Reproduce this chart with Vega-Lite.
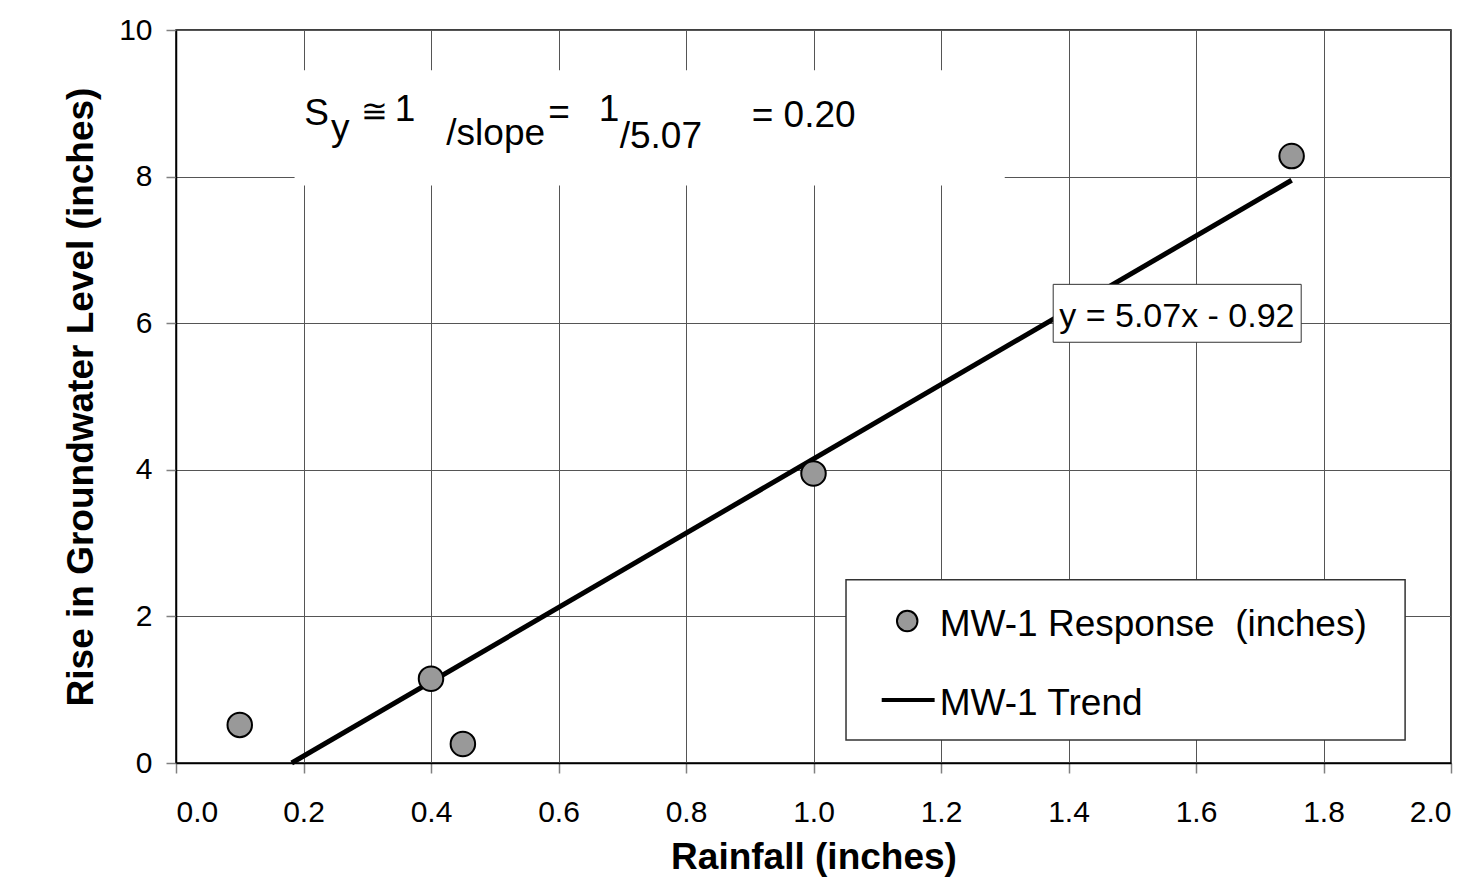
{
  "$schema": "https://vega.github.io/schema/vega-lite/v6.json",
  "autosize": {"type": "none"},
  "width": 1275,
  "height": 733,
  "padding": {"left": 176, "top": 30, "right": 27, "bottom": 119},
  "background": "white",
  "config": {
    "font": "Liberation Sans",
    "view": {"stroke": "#000000", "strokeWidth": 1.5},
    "axis": {
      "labelFont": "Liberation Sans",
      "titleFont": "Liberation Sans",
      "labelFontSize": 30,
      "labelColor": "#000000",
      "titleFontSize": 37,
      "titleFontWeight": "bold",
      "titleColor": "#000000",
      "gridColor": "#555555",
      "gridOpacity": 1,
      "gridWidth": 1,
      "domainColor": "#000000",
      "domainWidth": 1.5,
      "tickColor": "#808080",
      "tickSize": 10,
      "tickWidth": 1.5
    }
  },
  "datasets": {
    "obs": [
      {"rainfall": 0.1, "rise": 0.52},
      {"rainfall": 0.4, "rise": 1.15},
      {"rainfall": 0.45, "rise": 0.26},
      {"rainfall": 1.0, "rise": 3.95},
      {"rainfall": 1.75, "rise": 8.28}
    ],
    "trend": [
      {"rainfall": 0.1815, "rise": 0.0},
      {"rainfall": 1.75, "rise": 7.95}
    ],
    "one": [{"k": 1}]
  },
  "layer": [
    {
      "data": {"name": "trend"},
      "mark": {"type": "line", "color": "#000000", "strokeWidth": 5, "strokeCap": "butt"},
      "encoding": {
        "x": {
          "field": "rainfall", "type": "quantitative",
          "scale": {"domain": [0, 2], "nice": false, "zero": false},
          "axis": {"title": "Rainfall (inches)", "values": [0, 0.2, 0.4, 0.6, 0.8, 1.0, 1.2, 1.4, 1.6, 1.8, 2.0], "format": ".1f", "labelPadding": 24, "titlePadding": 12}
        },
        "y": {
          "field": "rise", "type": "quantitative",
          "scale": {"domain": [0, 10], "nice": false, "zero": false},
          "axis": {"title": "Rise in Groundwater Level (inches)", "values": [0, 2, 4, 6, 8, 10], "format": "d", "labelPadding": 14, "titlePadding": 18}
        }
      }
    },
    {
      "data": {"name": "obs"},
      "mark": {"type": "point", "shape": "circle", "filled": true, "fill": "#999999", "stroke": "#000000", "strokeWidth": 2, "size": 600, "opacity": 1},
      "encoding": {
        "x": {"field": "rainfall", "type": "quantitative"},
        "y": {"field": "rise", "type": "quantitative"}
      }
    },
    {
      "data": {"name": "one"},
      "mark": {"type": "rect", "fill": "white", "strokeWidth": 0},
      "encoding": {"x": {"datum": 0.186, "type": "quantitative"}, "x2": {"datum": 1.3}, "y": {"datum": 7.88, "type": "quantitative"}, "y2": {"datum": 9.45}}
    },
    {
      "data": {"name": "one"},
      "mark": {"type": "rect", "fill": "white", "stroke": "#333333", "strokeWidth": 1},
      "encoding": {"x": {"datum": 1.376, "type": "quantitative"}, "x2": {"datum": 1.765}, "y": {"datum": 5.74, "type": "quantitative"}, "y2": {"datum": 6.53}}
    },
    {
      "data": {"name": "one"},
      "mark": {"type": "text", "text": "y = 5.07x - 0.92", "fontSize": 34, "align": "center", "baseline": "alphabetic", "color": "#000000"},
      "encoding": {"x": {"datum": 1.570, "type": "quantitative"}, "y": {"datum": 5.95, "type": "quantitative"}}
    },
    {
      "data": {"name": "one"},
      "mark": {"type": "rect", "fill": "white", "stroke": "#333333", "strokeWidth": 1.5},
      "encoding": {"x": {"datum": 1.051, "type": "quantitative"}, "x2": {"datum": 1.928}, "y": {"datum": 0.314, "type": "quantitative"}, "y2": {"datum": 2.50}}
    },
    {
      "data": {"name": "one"},
      "mark": {"type": "point", "shape": "circle", "filled": true, "fill": "#999999", "stroke": "#000000", "strokeWidth": 2, "size": 420, "opacity": 1},
      "encoding": {"x": {"datum": 1.147, "type": "quantitative"}, "y": {"datum": 1.937, "type": "quantitative"}}
    },
    {
      "data": {"name": "one"},
      "mark": {"type": "rule", "color": "#000000", "strokeWidth": 4},
      "encoding": {"x": {"datum": 1.107, "type": "quantitative"}, "x2": {"datum": 1.190}, "y": {"datum": 0.86, "type": "quantitative"}}
    },
    {
      "data": {"name": "one"},
      "mark": {"type": "text", "text": "MW-1 Response \u00a0(inches)", "fontSize": 37, "align": "left", "baseline": "alphabetic", "color": "#000000"},
      "encoding": {"x": {"datum": 1.198, "type": "quantitative"}, "y": {"datum": 1.73, "type": "quantitative"}}
    },
    {
      "data": {"name": "one"},
      "mark": {"type": "text", "text": "MW-1 Trend", "fontSize": 37, "align": "left", "baseline": "alphabetic", "color": "#000000"},
      "encoding": {"x": {"datum": 1.198, "type": "quantitative"}, "y": {"datum": 0.655, "type": "quantitative"}}
    },
    {
      "data": {"name": "one"},
      "mark": {"type": "text", "text": "S", "fontSize": 37, "align": "left", "baseline": "alphabetic", "color": "#000000"},
      "encoding": {"x": {"datum": 0.201, "type": "quantitative"}, "y": {"datum": 8.71, "type": "quantitative"}}
    },
    {
      "data": {"name": "one"},
      "mark": {"type": "text", "text": "y", "fontSize": 37, "align": "left", "baseline": "alphabetic", "color": "#000000"},
      "encoding": {"x": {"datum": 0.243, "type": "quantitative"}, "y": {"datum": 8.50, "type": "quantitative"}}
    },
    {
      "data": {"name": "one"},
      "mark": {"type": "text", "text": "≅", "fontSize": 32, "align": "left", "baseline": "alphabetic", "color": "#000000"},
      "encoding": {"x": {"datum": 0.290, "type": "quantitative"}, "y": {"datum": 8.74, "type": "quantitative"}}
    },
    {
      "data": {"name": "one"},
      "mark": {"type": "text", "text": "1", "fontSize": 37, "align": "left", "baseline": "alphabetic", "color": "#000000"},
      "encoding": {"x": {"datum": 0.343, "type": "quantitative"}, "y": {"datum": 8.76, "type": "quantitative"}}
    },
    {
      "data": {"name": "one"},
      "mark": {"type": "text", "text": "/slope", "fontSize": 37, "align": "left", "baseline": "alphabetic", "color": "#000000"},
      "encoding": {"x": {"datum": 0.424, "type": "quantitative"}, "y": {"datum": 8.43, "type": "quantitative"}}
    },
    {
      "data": {"name": "one"},
      "mark": {"type": "text", "text": "=", "fontSize": 37, "align": "left", "baseline": "alphabetic", "color": "#000000"},
      "encoding": {"x": {"datum": 0.584, "type": "quantitative"}, "y": {"datum": 8.72, "type": "quantitative"}}
    },
    {
      "data": {"name": "one"},
      "mark": {"type": "text", "text": "1", "fontSize": 37, "align": "left", "baseline": "alphabetic", "color": "#000000"},
      "encoding": {"x": {"datum": 0.663, "type": "quantitative"}, "y": {"datum": 8.76, "type": "quantitative"}}
    },
    {
      "data": {"name": "one"},
      "mark": {"type": "text", "text": "/5.07", "fontSize": 37, "align": "left", "baseline": "alphabetic", "color": "#000000"},
      "encoding": {"x": {"datum": 0.696, "type": "quantitative"}, "y": {"datum": 8.39, "type": "quantitative"}}
    },
    {
      "data": {"name": "one"},
      "mark": {"type": "text", "text": "= 0.20", "fontSize": 37, "align": "left", "baseline": "alphabetic", "color": "#000000"},
      "encoding": {"x": {"datum": 0.903, "type": "quantitative"}, "y": {"datum": 8.68, "type": "quantitative"}}
    }
  ]
}
